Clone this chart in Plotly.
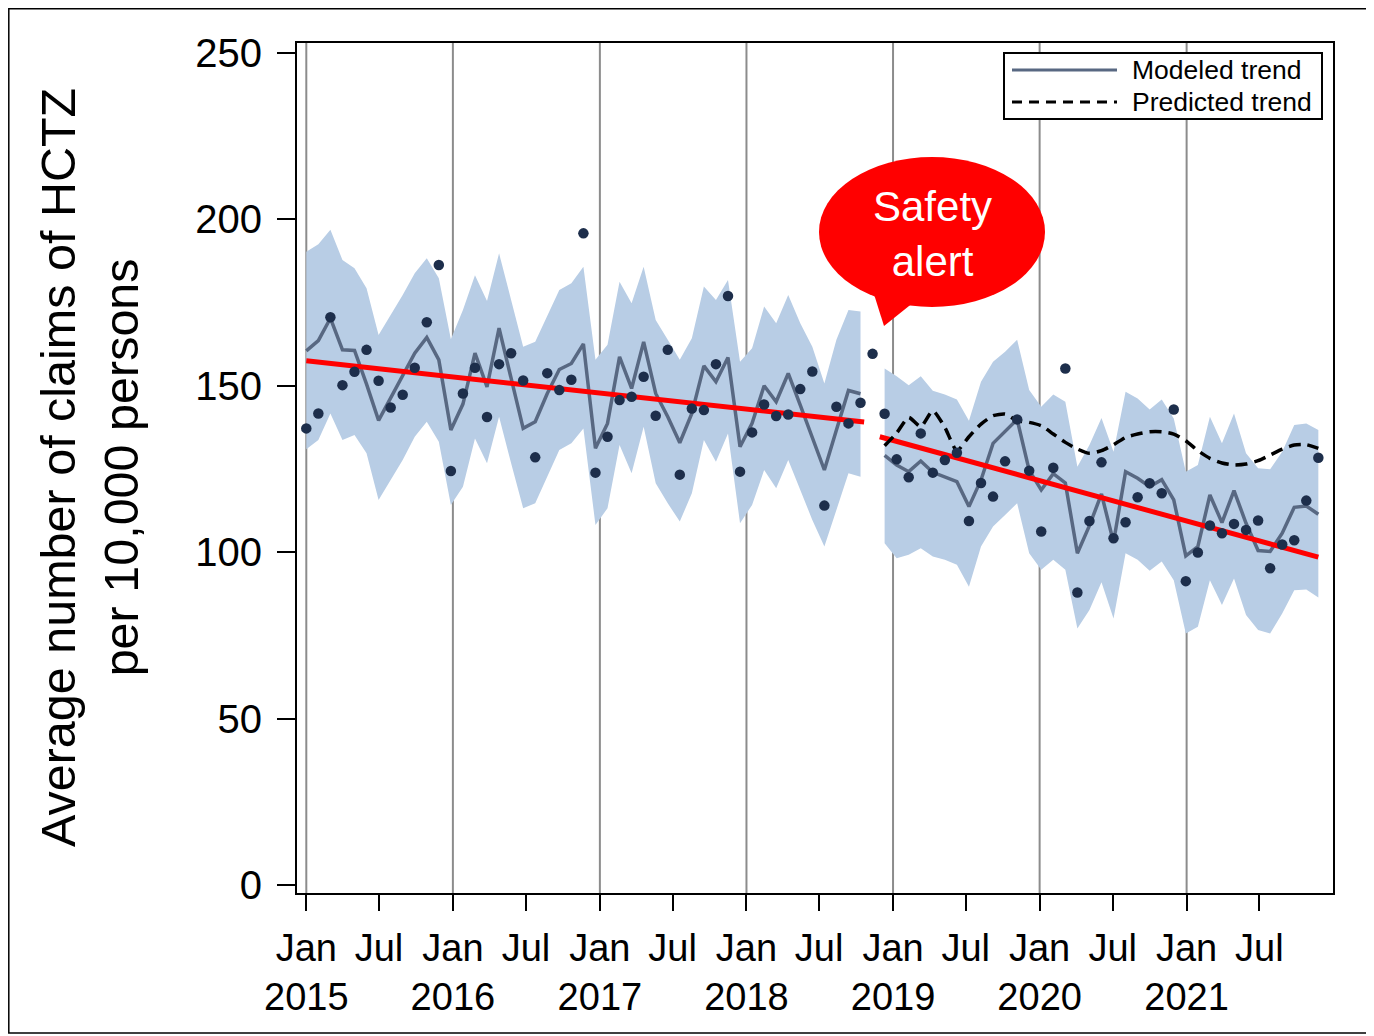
import pandas as pd
import plotly.graph_objects as go

# ---------------- data ----------------
# 85 observation periods, 30 days apart, starting 1 Jan 2015
observed = [137.2, 141.7, 170.6, 150.2, 154.2, 160.8, 151.5, 143.5, 147.3, 155.4,
            169.1, 186.3, 124.4, 147.7, 155.4, 140.6, 156.5, 159.8, 151.6, 128.5,
            153.8, 148.7, 151.8, 195.8, 123.9, 134.7, 145.7, 146.7, 152.7, 141.0,
            160.8, 123.3, 143.2, 142.7, 156.5, 177.0, 124.2, 136.0, 144.4, 140.9,
            141.4, 149.0, 154.3, 114.0, 143.7, 138.7, 144.9, 159.6, 141.6, 127.9,
            122.5, 135.7, 123.9, 127.7, 129.9, 109.4, 120.8, 116.7, 127.3, 139.9,
            124.5, 106.2, 125.4, 155.2, 87.9, 109.4, 127.0, 104.2, 109.0, 116.5,
            120.7, 117.7, 142.9, 91.3, 99.9, 108.0, 105.7, 108.5, 106.7, 109.5,
            95.2, 102.3, 103.6, 115.5, 128.4]

modeled = [160.5, 163.6, 170.3, 160.8, 160.6, 150.5, 139.6, 146.5, 153.0, 159.8,
           164.5, 157.8, 136.7, 144.5, 159.8, 149.7, 167.3, 152.5, 137.2, 139.2,
           147.7, 154.9, 156.7, 162.6, 131.2, 138.7, 158.7, 149.2, 163.2, 147.7,
           140.7, 132.9, 141.7, 156.0, 151.2, 158.5, 131.7, 138.7, 150.0, 145.2,
           153.7, 144.2, 134.7, 124.7, 136.7, 148.6, 147.6, None, 129.1, 126.2,
           124.2, 127.4, 124.0, 122.6, 121.2, 113.7, 121.7, 132.7, 136.2, 139.9,
           124.6, 118.7, 123.6, 120.8, 99.7, 108.0, 117.5, 103.0, 124.2, 122.2,
           119.7, 121.8, 115.7, 98.9, 101.7, 117.2, 108.9, 118.5, 108.7, 100.5,
           100.2, 105.7, 113.5, 113.9, 111.4]

upper = [190.3, 192.5, 196.9, 187.8, 185.3, 179.3, 165.3, 171.3, 177.3, 183.8,
         188.3, 182.3, 164.0, 172.8, 183.2, 175.5, 189.8, 175.8, 161.7, 163.2,
         170.8, 178.8, 180.8, 185.8, 157.8, 162.3, 181.3, 174.8, 185.8, 169.8,
         163.8, 157.8, 164.3, 179.8, 175.8, 181.8, 157.2, 161.3, 173.8, 168.8,
         177.3, 168.8, 161.7, 150.7, 163.8, 172.8, 172.3, None, 155.2, 152.9,
         150.2, 152.9, 148.5, 147.4, 145.9, 139.5, 151.2, 157.2, 160.2, 163.8,
         148.7, 143.7, 147.4, 145.2, 125.7, 132.2, 140.3, 130.2, 148.2, 146.2,
         142.9, 145.9, 140.2, 124.2, 126.2, 140.7, 132.7, 141.7, 129.7, 125.2,
         124.9, 130.2, 138.2, 138.7, 136.7]

lower = [130.9, 133.7, 141.7, 133.7, 135.2, 129.7, 115.7, 121.7, 127.7, 134.7,
         139.2, 133.2, 114.2, 119.7, 134.2, 126.7, 140.7, 126.7, 113.2, 114.7,
         122.7, 130.7, 132.7, 137.2, 108.2, 113.2, 132.2, 123.7, 137.7, 120.7,
         114.7, 109.2, 117.7, 133.7, 127.2, 135.7, 108.7, 114.2, 124.7, 119.2,
         127.7, 118.7, 109.7, 101.7, 112.7, 123.7, 122.7, None, 102.7, 98.2,
         99.2, 101.2, 98.7, 97.7, 96.2, 89.6, 101.7, 107.7, 111.2, 114.7,
         99.7, 94.7, 97.7, 94.7, 77.1, 82.6, 91.0, 80.1, 99.7, 97.7,
         94.4, 97.2, 91.6, 75.6, 77.6, 91.6, 84.1, 92.1, 81.1, 76.6,
         75.6, 81.6, 88.6, 88.8, 86.4]

predicted = [None] * 48 + [
    132.0, 135.8, 140.5, 137.7, 142.5, 137.5, 130.5, 134.7, 138.5, 141.0,
    141.5, 139.5, 139.0, 138.0, 135.5, 133.0, 131.0, 129.7, 130.5, 132.3,
    134.5, 135.5, 136.2, 136.2, 135.5, 133.5, 130.5, 128.2, 126.8, 126.2,
    126.5, 127.5, 129.2, 131.0, 132.2, 132.3, 131.2]

# segmented linear trends (period index, value)
trend_pre_period = [0.0, 46.3]
trend_pre_value = [157.5, 139.1]
trend_post_period = [47.6, 84.0]
trend_post_value = [134.7, 98.5]

pre_idx = list(range(0, 47))      # periods before the alert
post_idx = list(range(48, 85))    # periods after the alert

tick_years = [2015, 2016, 2017, 2018, 2019, 2020, 2021]
y_ticks = [0, 50, 100, 150, 200, 250]

# ---------------- helpers ----------------
START = pd.Timestamp("2015-01-01")
dates = pd.date_range(START, periods=len(observed), freq="30D")


def p2d(p):
    return START + pd.Timedelta(days=30 * p)


FONT = "Arial, 'Liberation Sans', Helvetica, sans-serif"
BAND = "#b8cde5"
MODEL = "#586882"
DOT = "#1d2e4b"

# page offset (body margin) and plot area in reference-picture pixels
OFF = 8
L, R, T, B = 297, 1333, 43, 893
W, H = 1374 - OFF, 1036 - OFF


def px(x):
    return (x - L) / (R - L)


def py(y):
    return (B - y) / (B - T)


fig = go.Figure()

# confidence bands
for idx in (pre_idx, post_idx):
    xs = [dates[i] for i in idx]
    fig.add_trace(go.Scatter(x=xs, y=[lower[i] for i in idx], mode="lines",
                             line=dict(width=0, color=BAND), hoverinfo="skip",
                             showlegend=False))
    fig.add_trace(go.Scatter(x=xs, y=[upper[i] for i in idx], mode="lines",
                             line=dict(width=0, color=BAND), fill="tonexty",
                             fillcolor=BAND, hoverinfo="skip", showlegend=False))

# modeled trend
for idx in (pre_idx, post_idx):
    fig.add_trace(go.Scatter(x=[dates[i] for i in idx], y=[modeled[i] for i in idx],
                             mode="lines", line=dict(color=MODEL, width=3.5),
                             name="Modeled trend", showlegend=False))

# red segmented trend lines
fig.add_trace(go.Scatter(x=[p2d(p) for p in trend_pre_period], y=trend_pre_value,
                         mode="lines", line=dict(color="#ff0000", width=5),
                         showlegend=False))
fig.add_trace(go.Scatter(x=[p2d(p) for p in trend_post_period], y=trend_post_value,
                         mode="lines", line=dict(color="#ff0000", width=5),
                         showlegend=False))

# predicted (counterfactual) trend
fig.add_trace(go.Scatter(x=list(dates), y=predicted, mode="lines",
                         line=dict(color="black", width=3.5, dash="12px,7px",
                                   shape="spline", smoothing=0.6),
                         name="Predicted trend", showlegend=False))

# observed points
fig.add_trace(go.Scatter(x=list(dates), y=observed, mode="markers",
                         marker=dict(color=DOT, size=10.5), showlegend=False))

# ---------------- axes ----------------
tickvals, ticktext = [], []
for yr in tick_years:
    tickvals += [pd.Timestamp(f"{yr}-01-01"), pd.Timestamp(f"{yr}-07-01")]
    ticktext += [f"Jan<br>{yr}", "Jul"]

fig.update_xaxes(type="date", range=["2014-12-08 20:00", "2021-12-31 12:00"],
                 tickvals=tickvals, ticktext=ticktext, ticks="outside",
                 ticklen=16, tickwidth=2, tickcolor="black", showline=True,
                 linecolor="black", linewidth=2, mirror=True, showgrid=False,
                 zeroline=False, tickfont=dict(family=FONT, size=38, color="black"),
                 ticklabelstandoff=4)
fig.update_yaxes(range=[-2.4, 253.0], tickvals=y_ticks, ticks="outside",
                 ticklen=18, tickwidth=2, tickcolor="black", showline=True,
                 linecolor="black", linewidth=2, mirror=True, showgrid=False,
                 zeroline=False, tickfont=dict(family=FONT, size=40, color="black"),
                 ticklabelstandoff=7)

shapes = []
# vertical January gridlines
for yr in tick_years:
    shapes.append(dict(type="line", xref="x", yref="paper",
                       x0=pd.Timestamp(f"{yr}-01-01"), x1=pd.Timestamp(f"{yr}-01-01"),
                       y0=0, y1=1, line=dict(color="#8c8c8c", width=2), layer="below"))

# outer frame of the picture
shapes.append(dict(type="rect", xref="paper", yref="paper",
                   x0=px(8.8), x1=px(1371), y0=py(1033), y1=py(8.8),
                   line=dict(color="black", width=1.5)))

# legend box drawn by hand (long line samples as in the reference)
shapes.append(dict(type="rect", xref="paper", yref="paper",
                   x0=px(1004), x1=px(1322), y0=py(119), y1=py(53),
                   line=dict(color="black", width=2), fillcolor="white"))
shapes.append(dict(type="line", xref="paper", yref="paper",
                   x0=px(1012), x1=px(1117), y0=py(70), y1=py(70),
                   line=dict(color=MODEL, width=3)))
shapes.append(dict(type="line", xref="paper", yref="paper",
                   x0=px(1012), x1=px(1117), y0=py(102), y1=py(102),
                   line=dict(color="black", width=3, dash="10px,7px")))

# safety alert speech bubble
shapes.append(dict(type="circle", xref="paper", yref="paper",
                   x0=px(819), x1=px(1045), y0=py(307), y1=py(157),
                   fillcolor="#ff0000", line=dict(width=0)))
tail = (f"M {px(872)},{py(288)} L {px(914)},{py(302)} "
        f"L {px(884)},{py(326)} Z")
shapes.append(dict(type="path", xref="paper", yref="paper", path=tail,
                   fillcolor="#ff0000", line=dict(width=0)))

annotations = [
    dict(xref="paper", yref="paper", x=px(1130), y=py(70), xanchor="left",
         yanchor="middle", showarrow=False, text="Modeled trend",
         font=dict(family=FONT, size=26.5, color="black")),
    dict(xref="paper", yref="paper", x=px(1130), y=py(102), xanchor="left",
         yanchor="middle", showarrow=False, text="Predicted trend",
         font=dict(family=FONT, size=26.5, color="black")),
    dict(xref="paper", yref="paper", x=px(932), y=py(234), xanchor="center",
         yanchor="middle", showarrow=False, text="Safety<br>alert",
         font=dict(family=FONT, size=42, color="white")),
    dict(xref="paper", yref="paper", x=px(89), y=py(468), xanchor="center",
         yanchor="middle", showarrow=False, textangle=-90,
         text="Average number of claims of HCTZ<br>per 10,000 persons",
         font=dict(family=FONT, size=48.5, color="black")),
]

fig.update_layout(width=W, height=H,
                  margin=dict(l=L - OFF, r=W - (R - OFF), t=T - OFF,
                              b=H - (B - OFF), pad=0),
                  plot_bgcolor="white", paper_bgcolor="white", showlegend=False,
                  shapes=shapes, annotations=annotations,
                  font=dict(family=FONT, color="black"))

fig.write_html("out.html")
